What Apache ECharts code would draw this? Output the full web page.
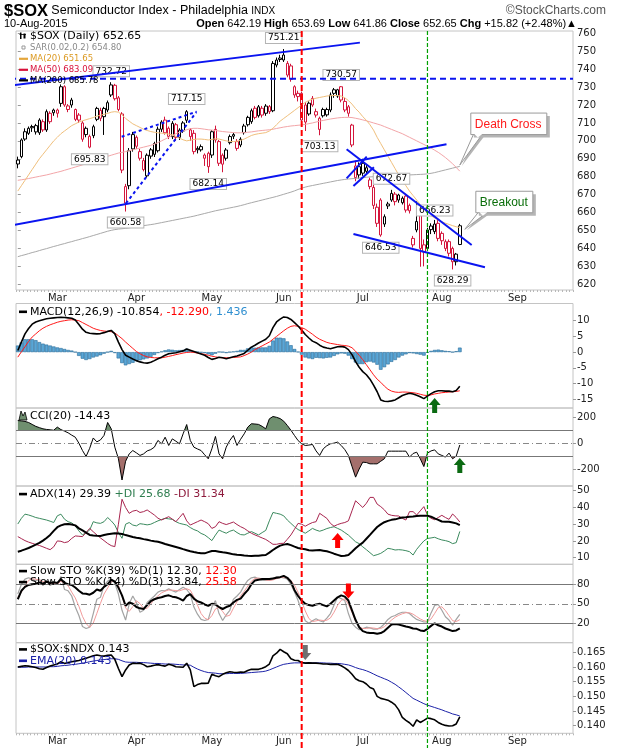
<!DOCTYPE html>
<html>
<head>
<meta charset="utf-8">
<title>$SOX Semiconductor Index</title>
<script src="https://cdn.jsdelivr.net/npm/echarts@6.0.0/dist/echarts.min.js"></script>
<style>
html,body{margin:0;padding:0;background:#fff;}
#chart{width:620px;height:750px;}
</style>
</head>
<body>
<div id="chart"></div>
<script>
// ---------------- DATA ----------------
const tradingDays = [
  ['2015-02', [12,13,17,18,19,20,23,24,25,26,27]],
  ['2015-03', [2,3,4,5,6,9,10,11,12,13,16,17,18,19,20,23,24,25,26,27,30,31]],
  ['2015-04', [1,2,6,7,8,9,10,13,14,15,16,17,20,21,22,23,24,27,28,29,30]],
  ['2015-05', [1,4,5,6,7,8,11,12,13,14,15,18,19,20,21,22,26,27,28,29]],
  ['2015-06', [1,2,3,4,5,8,9,10,11,12,15,16,17,18,19,22,23,24,25,26,29,30]],
  ['2015-07', [1,2,6,7,8,9,10,13,14,15,16,17,20,21,22,23,24,27,28,29,30,31]],
  ['2015-08', [3,4,5,6,7,10,11,12,13,14,17,18,19,20,21,24,25,26,27,28,31]],
  ['2015-09', [1,2,3,4,8,9,10,11,14,15,16,17,18,21,22,23]]
];
const monthNames = {'02':'Feb','03':'Mar','04':'Apr','05':'May','06':'Jun','07':'Jul','08':'Aug','09':'Sep'};

const open = [687.1,691.2,701.0,704.2,708.0,705.0,704.5,710.7,706.1,715.4,
717.2,717.2,720.9,730.2,717.5,722.8,717.5,714.4,710.0,707.0,
696.5,702.9,712.0,717.0,713.5,717.2,725.6,731.0,724.0,715.0,
665.2,675.0,695.5,702.0,694.0,689.0,680.5,691.5,692.5,694.5,
706.5,711.6,707.0,702.3,709.0,702.0,705.5,711.5,702.4,704.2,
695.8,695.0,690.3,693.1,692.1,706.4,699.6,692.0,690.3,699.0,
703.5,699.6,697.7,704.6,709.0,710.7,718.2,714.0,714.4,715.4,
719.1,716.8,742.3,746.2,745.1,743.2,741.8,730.2,726.5,726.5,
720.0,715.0,723.7,716.3,706.4,717.5,714.5,717.2,728.5,725.0,
730.2,722.0,719.0,708.8,686.0,685.6,687.5,683.0,678.2,674.0,
663.0,667.0,653.6,664.8,667.0,670.3,669.8,665.5,669.2,664.0,
642.0,650.3,658.6,642.0,640.0,652.5,649.4,654.0,648.4,640.0,
643.8,640.0,632.6,642.19];
const high = [691.2,701.4,707.0,708.0,709.0,709.5,712.6,712.0,717.5,716.5,
718.0,718.0,731.5,731.0,720.5,724.0,718.0,715.5,711.0,708.0,
703.5,709.0,719.0,718.5,719.0,722.5,732.72,731.8,725.0,716.0,
676.0,696.0,705.0,703.0,695.5,690.5,693.0,696.0,699.5,708.0,
711.5,713.5,708.0,711.0,710.0,707.0,711.0,717.15,707.0,706.0,
697.0,698.0,693.0,694.0,706.0,708.5,700.5,693.0,696.0,703.5,
704.5,701.0,702.0,709.5,714.0,718.0,719.5,720.0,719.5,720.5,
720.0,744.5,746.5,748.0,751.21,744.5,743.0,731.0,728.0,727.5,
721.5,722.0,725.0,718.0,713.5,718.5,718.5,727.0,729.5,729.0,
730.57,724.0,720.0,709.5,689.0,688.0,690.0,687.0,679.5,675.5,
665.0,668.0,659.0,666.0,672.67,671.5,670.5,669.0,670.5,665.0,
647.0,666.23,660.0,645.0,651.5,654.0,655.9,656.0,649.5,645.0,
645.0,641.0,637.5,653.69];
const low = [684.7,690.3,700.0,703.3,705.0,703.5,703.3,705.0,705.0,709.5,
714.0,713.0,719.0,719.0,716.0,718.5,711.0,710.0,699.5,702.0,
695.83,701.5,711.0,711.0,703.3,716.0,724.5,722.5,716.5,682.0,
660.58,673.0,694.0,695.5,689.0,683.0,679.5,690.0,691.0,693.5,
705.0,703.5,701.0,701.0,700.0,700.5,704.5,710.0,700.0,692.5,
693.0,694.0,686.0,682.14,690.5,699.0,686.0,682.5,689.0,698.0,
701.0,694.5,696.5,703.5,708.0,709.5,712.0,713.0,713.0,714.0,
715.0,716.0,741.0,744.0,744.0,735.5,733.0,724.0,722.0,710.0,
705.5,714.0,719.0,713.0,703.13,713.0,713.5,716.0,724.0,724.0,
721.5,716.0,713.5,696.5,677.5,679.0,680.5,681.0,673.0,662.0,
652.0,646.53,652.0,662.0,666.0,664.0,665.5,664.5,660.0,659.5,
640.5,649.0,629.8,630.0,638.5,648.0,648.0,644.0,642.0,638.5,
635.5,628.29,630.5,641.86];
const close = [689.3,700.5,705.1,707.0,707.3,708.5,711.6,706.1,716.3,710.7,
715.7,715.4,730.2,720.0,719.5,720.0,712.0,711.6,700.9,703.5,
702.5,707.9,718.1,712.6,718.1,721.3,731.2,723.5,717.5,683.7,
674.5,694.5,703.5,697.0,690.3,684.0,692.0,695.0,698.5,706.5,
710.5,704.5,702.5,709.8,702.0,706.0,710.0,716.3,706.1,694.0,
695.0,696.8,692.1,685.6,705.1,700.5,687.5,687.0,694.9,702.4,
702.6,695.8,700.9,708.3,713.1,716.8,713.1,719.0,718.2,719.4,
716.3,743.2,745.1,745.4,747.9,736.7,734.3,725.6,724.7,711.6,
710.5,721.0,720.0,714.4,712.6,714.0,717.5,725.6,726.5,728.5,
722.8,717.2,715.4,697.7,679.5,681.0,682.0,685.0,674.5,664.0,
654.0,647.5,657.7,663.7,670.7,666.1,667.0,668.0,661.4,661.0,
645.6,655.0,640.0,638.0,650.3,650.5,653.6,645.6,644.3,643.8,
637.3,632.6,636.83,652.65];

const ma20 = [672,675,678,681,684,687,690,692.5,695,697.5,
700,702,704,705.5,707,708.5,709.5,710.5,711.2,711.8,
712.4,713,713.8,714.3,714.8,715.3,716,716.3,716,714.5,
712.5,711,709.5,708.5,707.5,706.5,705.8,705.2,704.8,704.5,
704.3,704.1,703.8,703.3,702.5,701.5,700.6,700,700.4,700.8,
701,701,700.8,700.5,700.8,701.2,701,700.5,700,699.7,
699.6,699.8,700.3,701,702,703,703.6,704,704.3,704.6,
705.5,707,709,711,712.5,714,715.5,717,718.5,720,
721.5,722.5,723.2,723.8,724.2,724.6,725,725.2,725.3,725.3,
725,724,722.5,720.5,718,716,713.5,711.5,709,706,
702,698.5,695,691.5,688,684.5,681,678,675,672,
669.5,667,664.5,662,660,658.3,657,655.8,654.9,654.1,
653.4,652.7,652.1,651.65];
const ma50 = [678,678.3,678.6,679,679.4,679.8,680.2,680.6,681,681.5,
682,682.5,683,683.6,684.2,684.8,685.4,686,686.6,687.2,
687.8,688.5,689.2,690,690.7,691.4,692,692.6,693.2,693.6,
694,694.5,695,695.5,696,696.5,697,697.5,698.2,699,
700,701,702,703,704,704.8,705.5,706.2,706.8,707,
707,706.8,706.5,706.2,706,705.8,705.5,705.2,705,704.8,
704.6,704.5,704.5,704.6,704.8,705,705.3,705.6,705.8,706,
706.2,706.5,706.9,707.3,707.7,708,708.3,708.5,708.7,708.9,
709.2,709.6,710,710.5,711,711.4,711.8,712.2,712.5,712.8,
713,713.1,713.1,713,712.6,712.2,711.7,711.2,710.6,710,
709.4,708.8,708,707.2,706.4,705.6,704.8,704,703,702,
701,700,699,698,697,696,694.8,693.6,692.2,690.7,
689,687.2,685.2,683.09];
const ma200 = [635.4,636,636.5,637.1,637.7,638.2,638.8,639.4,639.9,640.5,
641.1,641.6,642.2,642.7,643.3,643.8,644.4,644.9,645.5,646,
646.6,647.2,647.8,648.4,649,649.6,650.1,650.5,650.8,651,
651.2,651.5,651.8,652.1,652.4,652.7,653,653.3,653.6,654,
654.4,654.8,655.2,655.6,656,656.4,656.8,657.2,657.6,658,
658.5,659,659.5,660,660.5,661,661.4,661.8,662.2,662.6,
663,663.4,663.9,664.4,665,665.5,666,666.5,667,667.5,
668,668.5,669,669.6,670.2,670.8,671.4,672.1,672.9,673.6,
674.2,674.7,675.1,675.5,675.9,676.3,676.7,677.1,677.5,677.9,
678.2,678.5,678.7,678.9,679.1,679.3,679.5,679.7,679.9,680,
680.1,680.2,680.3,680.4,680.5,680.6,680.7,680.8,680.9,681,
681.1,681.2,681.3,681.4,681.6,681.9,682.3,682.8,683.3,683.8,
684.3,684.8,685.3,685.78];

const macd = [0.5,3.2,5.8,7.5,8.9,9.6,10,10.3,10.6,10.8,
10.9,11,11.1,11,10.9,10.8,10.2,8.8,7.3,6.3,
6,5.9,5.8,5.9,6.2,6.6,6.9,5.8,3.2,0.8,
-1,-1.6,-2.2,-2.7,-3.1,-3.4,-3.5,-3.2,-2.7,-2.1,
-1.6,-1,-0.5,-0.35,-0.2,0.1,0.4,1,0.6,0.2,
-0.2,-0.6,-1,-1.7,-2.3,-2,-1.6,-1.8,-2.1,-1.8,
-1.5,-1.2,-0.8,-0.4,0.6,1.6,2.2,2.9,3.5,4.1,
5.2,7.8,9.6,10.5,11.2,11,10.4,9.4,8.3,7,
5.6,4.5,3.5,3,2.2,1.6,1.3,1.1,1.4,1.7,
1.8,1.6,0.8,-0.8,-3,-4.8,-6.2,-7.2,-8.6,-10.5,
-12.6,-15.2,-15.6,-15.7,-15.5,-15.2,-14.5,-13.8,-13.4,-13.1,
-13.3,-13.7,-14.2,-14.8,-14,-13.2,-12.6,-12.3,-12.3,-12.4,
-12.4,-12.6,-12.2,-10.854];
const macdSignal = [-1.6,0.1,1.7,3.4,4.8,5.8,6.8,7.6,8.2,8.7,
9.1,9.5,9.8,10,10.2,10.3,10.2,10,9.4,8.8,
8.2,7.6,7.2,6.9,6.7,6.6,6.5,6.1,5.2,4.3,
3.2,2.2,1.2,0.2,-0.5,-1.1,-1.5,-1.7,-1.8,-1.8,
-1.8,-1.6,-1.35,-1.1,-0.8,-0.55,-0.3,-0.1,0,-0.1,
-0.3,-0.5,-0.7,-1,-1.3,-1.5,-1.7,-1.8,-1.8,-1.8,
-1.7,-1.6,-1.5,-1.1,-0.6,0,0.8,1.4,2,2.6,
3.2,4.1,5,5.9,6.8,7.6,8.2,8.4,8.2,7.8,
7.3,6.5,5.7,4.8,4.1,3.6,3.1,2.8,2.6,2.4,
2.2,2.1,1.9,1.4,0.3,-1,-2.4,-4,-5.6,-7.2,
-8.6,-9.6,-10.8,-11.8,-12.4,-12.7,-12.8,-12.7,-12.7,-12.8,
-12.9,-13.1,-13.4,-13.7,-13.8,-13.6,-13.3,-13.1,-12.9,-12.8,
-12.7,-12.6,-12.5,-12.29];
const macdHist = [2.1,3.1,4.1,4.1,4.1,3.8,3.2,2.7,2.4,2.1,
1.8,1.5,1.3,1.0,0.7,0.5,0.0,-1.2,-2.1,-2.5,
-2.2,-1.7,-1.4,-1.0,-0.5,0.0,0.4,-0.3,-2.0,-3.5,
-4.2,-3.8,-3.4,-2.9,-2.6,-2.3,-2.0,-1.5,-0.9,-0.3,
0.2,0.6,0.85,0.75,0.6,0.65,0.7,1.1,0.6,0.3,
0.1,-0.1,-0.3,-0.7,-1.0,-0.5,0.1,0.0,-0.3,0.0,
0.2,0.4,0.7,0.7,1.2,1.6,1.4,1.5,1.5,1.5,
2.0,3.7,4.6,4.6,4.4,3.4,2.2,1.0,0.1,-0.8,
-1.7,-2.0,-2.2,-1.8,-1.9,-2.0,-1.8,-1.7,-1.2,-0.7,
-0.4,-0.5,-1.1,-2.2,-3.3,-3.8,-3.8,-3.2,-3.0,-3.3,
-4.0,-5.6,-4.8,-3.9,-3.1,-2.5,-1.7,-1.1,-0.7,-0.3,
-0.4,-0.6,-0.8,-1.1,-0.2,0.4,0.7,0.8,0.6,0.4,
0.3,0.0,0.3,1.436];

const cci = [175,172,168,160,145,130,120,111,106,103,
100,124,105,93,80,62,46,0,-57,-103,
-40,40,10,25,60,160,111,-31,-120,-285,
-140,-83,-57,-75,-95,-83,-60,-50,-31,21,
-5,46,-18,33,15,-5,72,144,21,-31,
-45,-57,-90,-121,-44,52,-83,-121,-31,21,
59,-18,30,72,124,150,148,145,130,111,
188,206,200,190,170,137,100,59,20,-5,
-18,-15,-10,-60,-95,-44,-20,-5,0,8,
-18,-50,-95,-180,-263,-200,-147,-150,-160,-160,
-160,-140,-121,-62,-62,-62,-62,-62,-62,-108,
-80,-70,-121,-181,-77,-60,-52,-83,-95,-108,
-77,-121,-100,-14.43];

const adx = [13.6,14.2,15,15.8,16.8,17.8,18.8,20.2,21.8,23.6,
26,28.2,29.3,30,30.1,29.8,29.3,27.5,26.3,25,
23.6,23.3,23.1,23,23.5,24,24.3,24.6,24.5,24.2,
23.5,23,22.4,21.9,21.6,21.1,20.7,20.2,19.8,19.5,
18.9,18.2,17.6,17,16.4,15.8,15.1,14.5,13.9,13.4,
13,12.7,12.6,13.3,14,14,13.6,13.2,13,12.5,
12,11.7,11.6,11.3,11.1,11,11.1,11.2,11.4,11.6,
13,14.6,16,17.2,17.8,18.2,17.5,16.6,15.8,15.3,
15,14.5,14.3,14.5,14.6,14.2,13.8,13.2,12.4,11.7,
11,11.2,11.6,13.5,15.6,17.4,19,21.3,23.6,26,
28.3,29.9,31.2,32,32.6,32.9,33.5,34,34.2,34.5,
34.6,34.9,35,35.1,35,34.5,33.5,32.6,31.6,31.5,
31.5,31,30.5,29.39];
const plusDI = [30.1,33.5,36,35.5,34.8,34,33.5,33,32.5,31.8,
31,35,36,33,31.5,30.8,29,26,23.6,25,
26.5,31.5,30.8,30.5,31.5,34,32,29.5,25,21.6,
30,31,29.5,29,30.3,30,29.6,30,31,32,
32.8,33.5,33.2,32.9,31.5,30.5,30,29.5,28,26.8,
26,24.5,23.6,22,20.2,23.5,26.5,25.5,24.6,25.8,
26.5,25,23.8,23.6,24.6,25.6,24.6,23.6,25,26.3,
32,37,36.5,36,35,32.5,30.5,28.5,26.8,25.8,
24.6,26,27.5,26.5,25.8,26.5,27.4,28,28.5,27.5,
26.5,25,23.5,21.5,19.5,18.4,16.5,14.8,13,11.2,
11.8,12.6,14,15.6,15.2,14.6,14.8,14.6,14.2,13.6,
11.6,15,17.6,20,21.5,21.8,22.2,21.3,20.6,20.2,
19.6,18.4,19,25.68];
const minusDI = [22.6,21.4,20.2,19.3,18.6,17.9,17.3,16.5,15.6,14.8,
16.5,20,19.8,19,19.5,21.5,23,22.8,22.6,25,
27.5,25.5,23.6,21.8,20.2,18.5,17.2,16.6,30,44.9,
40,36.5,37.8,38.3,37,37.5,38.5,37,35.5,33.6,
32.5,33.5,34.5,33,31.5,34,36.5,32,29.5,30.5,
31.5,32.5,31.5,30.3,27.5,28.5,31.5,30.5,29.8,30.5,
31.3,29.8,28.5,27.5,26,24.6,23.6,22.7,21.8,20.9,
19.5,18,18,18.5,18.6,21,23.6,27,30.5,30,
28.8,30,31,31.5,36.5,35,33.5,30.5,28.8,29.8,
30.5,31,32,38,44,42,40,42.5,46,46,
42,40.5,38.6,36,35.3,35,34.9,33.5,32.5,37.5,
37.5,35.5,38,40.5,35.5,33.5,32.7,34,35.3,34,
32.9,36.1,34,31.34];

const stoK39 = [57,70,76,79,80,81,83,81,84,82,
83,82,88,82,80,79,75,70,66,65.5,
64,67,72,70,76,80,87,84,75,63,
47,52,50,45,43,42,48,54,57,59,
60,62,63,61,60,58,55,62,65,58,
54,52,49,47,50,49,45,42,45,47,
52,56,58,65,71,80,86,87,88,88,
88,89,90,91,93,90,84,71,62,55,
50,48,47,49,50,48,46,50,55,60,
63,61,55,40,25,14,8,6,5,5,
4,5,8,13,18,19,18,16.6,15,14,
12,11.5,9,8,11.5,16,20,17,15,12,
10,8,9,12.3];
const stoK14 = [65,80,88,90,88,85,88,78,86,78,
82,80,92,72,70,62,45,32,15,12,
14,35,57,60,78,85,88,82,65,40,
25,50,62,52,37,40,52,57,62,68,
70.5,70,73,70,68,72,75.6,72,65,45,
34,26,24.3,26,45,55,35,24.3,33,40,
57,62,68,78,86,90,91,88,86,86,
86,88,92,91,90,88,80,68,55,38,
24,20.2,24,27,24,22,28,35,48,60,
58,55,35,20,14,10,12,14,13,11,
11,14,19,26,30,32,35,37,37,35,
30,26,24,22,22,36,47.4,48.9,40,30,
25,17,26,33.84];
const stoD3 = [60,68,77.7,86,88.7,87.7,87,83.7,84,80.7,
82,80,84.7,81.3,78,68,59,46.3,30.7,19.7,
13.7,20.3,35.3,50.7,65,74.3,83.7,85,78.3,62.3,
43.3,38.3,45.7,54.7,50.3,43,43,49.7,57,62.3,
66.8,69.5,71.2,71,70.3,70,71.9,73.2,70.9,60.7,
48,35,28.1,25.4,31.8,42,45,38.1,30.8,32.4,
43.3,53,62.3,69.3,77.3,84.7,89,89.7,88.3,86.7,
86,86.7,88.7,90.3,91,89.7,86,78.7,67.7,53.7,
39,27.4,22.7,23.7,25,24.3,24.7,28.3,37,47.7,
55.3,57.7,49.3,36.7,23,14.7,12,12,13,12.7,
11.7,12,14.7,19.7,25,29.3,32.3,34.7,36.3,36.3,
34,30.3,26.7,24,22.7,26.7,35.1,44.1,45.4,39.6,
31.7,24,22.7,25.58];

const soxNdx = [0.1600,0.1602,0.1604,0.1603,0.1601,0.1598,0.1594,0.1592,0.1598,0.1603,
0.1607,0.1610,0.1618,0.1612,0.1615,0.1618,0.1620,0.1622,0.1626,0.1630,
0.1634,0.1638,0.1641,0.1638,0.1637,0.1640,0.1641,0.1626,0.1595,0.1567,
0.1590,0.1607,0.1613,0.1612,0.1613,0.1608,0.1601,0.1603,0.1606,0.1608,
0.1605,0.1603,0.1609,0.1606,0.1601,0.1600,0.1599,0.1613,0.1590,0.1533,
0.1540,0.1544,0.1544,0.1545,0.1575,0.1570,0.1567,0.1575,0.1580,0.1584,
0.1582,0.1581,0.1583,0.1582,0.1588,0.1592,0.1592,0.1592,0.1596,0.1601,
0.1610,0.1638,0.1647,0.1660,0.1652,0.1645,0.1628,0.1623,0.1622,0.1615,
0.1613,0.1614,0.1613,0.1613,0.1612,0.1610,0.1610,0.1609,0.1609,0.1609,
0.1604,0.1597,0.1588,0.1575,0.1560,0.1553,0.1550,0.1542,0.1530,0.1525,
0.1500,0.1493,0.1490,0.1487,0.1480,0.1471,0.1454,0.1428,0.1418,0.1410,
0.1398,0.1420,0.1411,0.1418,0.1426,0.1424,0.1420,0.1411,0.1405,0.1401,
0.1399,0.1400,0.1406,0.1430];
const soxNdxEma = [0.1599,0.1599,0.1599,0.1600,0.1600,0.1600,0.1600,0.1600,0.1600,0.1601,
0.1601,0.1602,0.1604,0.1605,0.1606,0.1608,0.1609,0.1611,0.1613,0.1615,
0.1618,0.1620,0.1622,0.1624,0.1625,0.1627,0.1628,0.1628,0.1626,0.1621,
0.1617,0.1616,0.1616,0.1616,0.1615,0.1615,0.1614,0.1613,0.1612,0.1612,
0.1611,0.1610,0.1610,0.1610,0.1609,0.1608,0.1607,0.1607,0.1606,0.1599,
0.1593,0.1588,0.1584,0.1581,0.1580,0.1579,0.1577,0.1577,0.1577,0.1578,
0.1578,0.1578,0.1578,0.1579,0.1580,0.1581,0.1582,0.1583,0.1584,0.1586,
0.1590,0.1595,0.1600,0.1605,0.1609,0.1611,0.1613,0.1614,0.1614,0.1614,
0.1614,0.1614,0.1614,0.1614,0.1614,0.1614,0.1613,0.1613,0.1612,0.1612,
0.1611,0.1609,0.1607,0.1603,0.1598,0.1594,0.1591,0.1587,0.1582,0.1576,
0.1570,0.1565,0.1560,0.1555,0.1548,0.1541,0.1532,0.1523,0.1513,0.1503,
0.1493,0.1487,0.1481,0.1475,0.1470,0.1466,0.1462,0.1458,0.1454,0.1449,
0.1445,0.1440,0.1437,0.1433];

// tick labels
const priceTicks = [620,630,640,650,660,670,680,690,700,710,720,730,740,750,760];
const macdTicks = [-15,-10,-5,0,5,10];
const cciTicks = [-200,0,200];
const adxTicks = [10,20,30,40,50];
const stoTicks = [20,50,80];
const ratioTicks = [0.140,0.145,0.150,0.155,0.160,0.165];

// annotated price labels [index, value, placement]
const priceLabels = [[26,732.72,'t'],[74,751.21,'t'],[47,717.15,'t'],[20,695.83,'b'],[30,660.58,'b'],
  [53,682.14,'b'],[90,730.57,'t'],[84,703.13,'b'],[104,672.67,'t'],[101,646.53,'b'],[111,666.23,'r'],[121,628.29,'b']];

// hand-drawn trend lines in (day index, price) coordinates
const trendLines = [
  [[-4.95,730.2],[95.2,754.8],'solid'],
  [[-4.95,734.6],[154.5,734.6],'dashed'],
  [[-4.95,651.6],[119.3,698.1],'solid'],
  [[28.9,702.3],[49.8,716.3],'dotted'],
  [[30.1,665.2],[49.6,715.7],'dotted'],
  [[91.5,695.3],[126.3,641.9],'solid'],
  [[91.5,679.1],[97.1,691.2],'solid'],
  [[93.4,674.8],[99.1,685.3],'solid'],
  [[93.4,648.1],[130,629.5],'solid']
];
const redLineDay = 79;    // Jun 8
const greenLineDay = 114; // Jul 28

// ---------------- BUILD ----------------
const categories = [];
const monthStart = new Set();
tradingDays.forEach(([ym, days]) => {
  days.forEach((d, k) => {
    if (k === 0 && categories.length > 0) monthStart.add(categories.length);
    categories.push(ym + '-' + String(d).padStart(2, '0'));
  });
});
const N = categories.length;
const FONT = 'DejaVu Sans';
const RED = '#d4163c';

const panels = [
  {top:31,    height:259,   min:616.82,  max:761.28,  ticks:priceTicks, fmt:v=>String(v)},
  {top:303.5, height:104.5, min:-17.77,  max:15.47,   ticks:macdTicks,  fmt:v=>String(v)},
  {top:408,   height:78,    min:-331.5,  max:271.95,  ticks:cciTicks,   fmt:v=>String(v)},
  {top:486,   height:78.3,  min:6.06,    max:52.81,   ticks:adxTicks,   fmt:v=>String(v)},
  {top:564.3, height:78.4,  min:-9.85,   max:110.77,  ticks:stoTicks,   fmt:v=>String(v)},
  {top:642.7, height:90.6,  min:0.13741, max:0.16827, ticks:ratioTicks, fmt:v=>v.toFixed(3)}
];

const grid = panels.map(p => ({left:16, right:47, top:p.top, height:p.height, show:true,
  borderColor:'#c4c4c4', borderWidth:1, containLabel:false}));
const xAxis = panels.map((p, i) => ({
  type:'category', gridIndex:i, data:categories, boundaryGap:true,
  axisLine:{show:false},
  axisTick:{show:(i===0||i===5), interval:0, length:2, lineStyle:{color:'#b8b8b8', width:1}},
  axisLabel:{show:(i===0||i===5), interval:(idx)=>monthStart.has(idx),
    formatter:(v)=>monthNames[v.slice(5,7)], fontSize:10, color:'#222', margin:3, fontFamily:FONT},
  splitLine:{show:false}
}));
xAxis.push({type:'value', gridIndex:0, min:-0.5, max:N-0.5, show:false});
const TREND_X = xAxis.length - 1;
const yAxis = panels.map((p, i) => ({
  type:'value', gridIndex:i, position:'right', min:p.min, max:p.max, scale:true,
  splitLine:{show:false}, axisLine:{show:false},
  axisTick:{show:true, length:3, lineStyle:{color:'#999'}, customValues:p.ticks},
  axisLabel:{customValues:p.ticks, formatter:p.fmt, fontSize:10, color:'#222', margin:4, fontFamily:FONT}
}));

const candleData = close.map((c, i) => {
  const prev = i > 0 ? close[i-1] : open[0];
  const col = c >= prev ? '#000000' : RED;
  return {value:[open[i], c, low[i], high[i]],
    itemStyle:{color:'#ffffff', color0:col, borderColor:col, borderColor0:col, borderWidth:1}};
});

const labelMarks = priceLabels.map(([i, v, pl]) => ({
  coord:[categories[i], v], value:v,
  label:{offset: pl==='t' ? [0,-11] : pl==='b' ? [0,11] : [18,9]}
}));

const ARROW_UP = 'path://M6,0 L12,7 L8.5,7 L8.5,15 L3.5,15 L3.5,7 L0,7 Z';
const ARROW_DN = 'path://M3.5,0 L8.5,0 L8.5,8 L12,8 L6,15 L0,8 L3.5,8 Z';
function arrowMark(i, v, sym, color) {
  return {silent:true, label:{show:false}, animation:false,
    data:[{coord:[categories[i], v], symbol:sym, symbolSize:[12,15], symbolKeepAspect:false, itemStyle:{color:color}}]};
}

const series = [];
function add(s) { series.push(s); return series.length - 1; }
const lineBase = {type:'line', symbol:'none', showSymbol:false, animation:false, silent:true};

// main panel
add(Object.assign({}, lineBase, {name:'MA200', xAxisIndex:0, yAxisIndex:0, data:ma200, lineStyle:{color:'#a9a9a9', width:1}}));
add(Object.assign({}, lineBase, {name:'MA50', xAxisIndex:0, yAxisIndex:0, data:ma50, lineStyle:{color:'#f3a5a8', width:1}}));
add(Object.assign({}, lineBase, {name:'MA20', xAxisIndex:0, yAxisIndex:0, data:ma20, lineStyle:{color:'#f0bf7c', width:1}}));
add({type:'candlestick', name:'$SOX', xAxisIndex:0, yAxisIndex:0, data:candleData, barWidth:3, animation:false, silent:true,
  markPoint:{silent:true, animation:false, symbol:'rect', symbolSize:1, itemStyle:{color:'rgba(0,0,0,0)'},
    label:{show:true, position:'inside', formatter:(p)=>p.value.toFixed(2), fontSize:9, fontFamily:FONT, color:'#000',
      backgroundColor:'#fff', borderColor:'#b4b4b4', borderWidth:1, padding:[1,2,0,2]},
    data:labelMarks}});
let firstTrend = -1;
trendLines.forEach(([a, b, t]) => {
  const idx = add(Object.assign({}, lineBase, {xAxisIndex:TREND_X, yAxisIndex:0, data:[a, b], clip:false, z:5,
    lineStyle:{color:'#0a14f0', width:2, type: t==='solid' ? 'solid' : t==='dashed' ? [6,4] : [3,3]}}));
  if (firstTrend < 0) firstTrend = idx;
});

// MACD
add({type:'bar', xAxisIndex:1, yAxisIndex:1, data:macdHist, barWidth:'100%', animation:false, silent:true,
  itemStyle:{color:'#5aa6d6', borderColor:'#2a6c98', borderWidth:0.6}});
add(Object.assign({}, lineBase, {xAxisIndex:1, yAxisIndex:1, data:macdSignal, lineStyle:{color:'#ff1a1a', width:1}}));
add(Object.assign({}, lineBase, {xAxisIndex:1, yAxisIndex:1, data:macd, lineStyle:{color:'#000', width:1.6},
  markPoint:arrowMark(116, -17.0, ARROW_UP, '#0b6a12')}));

// CCI
const cciUp = add(Object.assign({}, lineBase, {xAxisIndex:2, yAxisIndex:2, data:cci, lineStyle:{width:0, opacity:0},
  areaStyle:{opacity:1, origin:100}}));
const cciDn = add(Object.assign({}, lineBase, {xAxisIndex:2, yAxisIndex:2, data:cci, lineStyle:{width:0, opacity:0},
  areaStyle:{opacity:1, origin:-100}}));
add(Object.assign({}, lineBase, {xAxisIndex:2, yAxisIndex:2, data:cci, lineStyle:{color:'#000', width:1},
  markLine:{silent:true, symbol:['none','none'], label:{show:false}, animation:false,
    data:[{yAxis:100, lineStyle:{color:'#777', width:1, type:'solid'}},
          {yAxis:-100, lineStyle:{color:'#777', width:1, type:'solid'}},
          {yAxis:0, lineStyle:{color:'#888', width:1, type:[6,3,1,3]}}]},
  markPoint:arrowMark(123, -172, ARROW_UP, '#0b6a12')}));

// ADX
add(Object.assign({}, lineBase, {xAxisIndex:3, yAxisIndex:3, data:plusDI, lineStyle:{color:'#3b8a5e', width:1}}));
add(Object.assign({}, lineBase, {xAxisIndex:3, yAxisIndex:3, data:minusDI, lineStyle:{color:'#a8244e', width:1}}));
add(Object.assign({}, lineBase, {xAxisIndex:3, yAxisIndex:3, data:adx, lineStyle:{color:'#000', width:2},
  markPoint:arrowMark(89, 20.3, ARROW_UP, '#ff0000')}));

// STO
add(Object.assign({}, lineBase, {xAxisIndex:4, yAxisIndex:4, data:stoK14, lineStyle:{color:'#a3a3a3', width:1.2},
  markLine:{silent:true, symbol:['none','none'], label:{show:false}, animation:false,
    data:[{yAxis:80, lineStyle:{color:'#777', width:1, type:'solid'}},
          {yAxis:20, lineStyle:{color:'#777', width:1, type:'solid'}},
          {yAxis:50, lineStyle:{color:'#888', width:1, type:[6,3,1,3]}}]}}));
add(Object.assign({}, lineBase, {xAxisIndex:4, yAxisIndex:4, data:stoD3, lineStyle:{color:'#f29b9b', width:1}}));
add(Object.assign({}, lineBase, {xAxisIndex:4, yAxisIndex:4, data:stoK39, lineStyle:{color:'#000', width:2},
  markPoint:arrowMark(92, 69.7, ARROW_DN, '#ff0000')}));

// SOX:NDX
add(Object.assign({}, lineBase, {xAxisIndex:5, yAxisIndex:5, data:soxNdxEma, lineStyle:{color:'#1c22a8', width:1}}));
add(Object.assign({}, lineBase, {xAxisIndex:5, yAxisIndex:5, data:soxNdx, lineStyle:{color:'#000', width:1.6},
  markPoint:arrowMark(80, 0.1649, ARROW_DN, '#6f6f6f')}));

const option = {
  animation:false,
  backgroundColor:'#ffffff',
  grid, xAxis, yAxis, series,
  visualMap:[
    {type:'piecewise', show:false, seriesIndex:cciUp, dimension:1,
      pieces:[{gte:-2000, lte:100, color:'rgba(255,255,255,0)'}, {gt:100, lte:2000, color:'#6f8f6f'}]},
    {type:'piecewise', show:false, seriesIndex:cciDn, dimension:1,
      pieces:[{gte:-2000, lt:-100, color:'#a46f6c'}, {gte:-100, lte:2000, color:'rgba(255,255,255,0)'}]}
  ]
};

const chart = echarts.init(document.getElementById('chart'), null, {renderer:'canvas'});
chart.setOption(option);

// ---------------- ANNOTATIONS ----------------
const last = close.length - 1;
const chg = close[last] - close[last-1];
const chgPct = chg / close[last-1] * 100;
function px(x, y) { return chart.convertToPixel({seriesIndex:firstTrend}, [x, y]); }
function T(x, y, text, font, fill, align, extra, z) {
  return {type:'text', x:x, y:y, z:(z||200), silent:true,
    style:Object.assign({text:text, font:font, fill:fill, align:align||'left', verticalAlign:'middle'}, extra||{})};
}
function R(x, y, w, h, fill, stroke, z) {
  return {type:'rect', z:(z||200), silent:true, shape:{x:x, y:y, width:w, height:h},
    style:{fill:fill, stroke:stroke||null, lineWidth:1}};
}
const g = [];
// header
g.push(T(4, 11, '{a|$SOX} {b|Semiconductor Index - Philadelphia} {c|INDX}', '12px Liberation Sans', '#000', 'left',
  {rich:{a:{font:'bold 16.5px Liberation Sans', fill:'#000'}, b:{font:'12.5px Liberation Sans', fill:'#000'}, c:{font:'10px Liberation Sans', fill:'#000'}}}));
g.push(T(606, 11, '\u00A9StockCharts.com', '12px Liberation Sans', '#555', 'right'));
g.push(T(4, 24, '10-Aug-2015', '11px Liberation Sans', '#000', 'left'));
g.push(T(577, 24,
  '{b|Open} ' + open[last].toFixed(2) + ' {b|High} ' + high[last].toFixed(2) + ' {b|Low} ' + low[last].toFixed(2) +
  ' {b|Close} ' + close[last].toFixed(2) + ' {b|Chg} +' + chg.toFixed(2) + ' (+' + chgPct.toFixed(2) + '%)\u25B2',
  '11px Liberation Sans', '#000', 'right', {rich:{b:{font:'bold 11px Liberation Sans', fill:'#000'}}}));

// main legend
const LF1 = '11px ' + FONT;
const LF = '8.5px ' + FONT;
g.push(R(20, 32.5, 1.5, 6.5, '#000')); g.push(R(23.5, 33.5, 2, 5, '#000')); g.push(R(19.5, 34.2, 6.5, 0.8, '#000'));
g.push(T(30, 36.2, '$SOX (Daily) ' + close[last].toFixed(2), LF1, '#000'));
g.push(R(22, 46, 3, 3, '#fff', '#999'));
g.push(T(30, 47.3, 'SAR(0.02,0.2) 654.80', LF, '#8a8a8a'));
g.push(R(19, 57.7, 9, 2.2, '#e4a63c'));
g.push(T(30, 58.7, 'MA(20) ' + ma20[last].toFixed(2), LF, '#dc9a22'));
g.push(R(19, 68.7, 9, 2.2, '#d8103a'));
g.push(T(30, 69.7, 'MA(50) ' + ma50[last].toFixed(2), LF, '#d8103a'));
g.push(R(19, 79.3, 9, 2.2, '#000'));
g.push(T(30, 80.3, 'MA(200) ' + ma200[last].toFixed(2), LF, '#000'));

// panel legends
const PF = '11px ' + FONT;
function legendBar(y, color) { g.push(R(19, y - 1.2, 8, 2.6, color)); }
legendBar(311.7, '#000');
g.push(T(30, 311.7, '{a|MACD(12,26,9) ' + macd[last].toFixed(3) + '}{r|, ' + macdSignal[last].toFixed(3) + '}{c|, ' + macdHist[last].toFixed(3) + '}',
  PF, '#000', 'left', {rich:{a:{fill:'#000', font:PF}, r:{fill:'#ff0000', font:PF}, c:{fill:'#2f8fd0', font:PF}}}));
g.push({type:'polygon', z:200, silent:true, shape:{points:[[19,420],[21,411],[23,416],[25,412],[27,420]]}, style:{fill:'#6f8f6f', stroke:'#000', lineWidth:0.8}});
g.push(T(30, 416, 'CCI(20) ' + cci[last].toFixed(2), PF, '#000'));
legendBar(494, '#000');
g.push(T(30, 494, '{a|ADX(14) ' + adx[last].toFixed(2) + '}{p| +DI ' + plusDI[last].toFixed(2) + '}{m| -DI ' + minusDI[last].toFixed(2) + '}',
  PF, '#000', 'left', {rich:{a:{fill:'#000', font:PF}, p:{fill:'#2e7d4f', font:PF}, m:{fill:'#8e1a3c', font:PF}}}));
legendBar(571, '#000');
g.push(T(30, 571, '{a|Slow STO %K(39) %D(1) ' + stoK39[last].toFixed(2) + ',}{r| ' + stoK39[last].toFixed(2) + '}',
  PF, '#000', 'left', {rich:{a:{fill:'#000', font:PF}, r:{fill:'#ff0000', font:PF}}}));
legendBar(582, '#000');
g.push(T(30, 582, '{a|Slow STO %K(14) %D(3) ' + stoK14[last].toFixed(2) + ',}{r| ' + stoD3[last].toFixed(2) + '}',
  PF, '#000', 'left', {rich:{a:{fill:'#000', font:PF}, r:{fill:'#ff0000', font:PF}}}));
legendBar(649.3, '#000');
g.push(T(30, 649.3, '$SOX:$NDX ' + soxNdx[last].toFixed(3), PF, '#000'));
legendBar(660.7, '#1c22a8');
g.push(T(30, 660.7, 'EMA(20) ' + soxNdxEma[last].toFixed(3), PF, '#1c22a8'));

// vertical event lines
const xr = px(redLineDay, 700)[0];
const xgr = px(greenLineDay, 700)[0];
g.push({type:'line', z:150, silent:true, shape:{x1:xr, y1:31, x2:xr, y2:748}, style:{stroke:'#ff0000', lineWidth:2, lineDash:[6,3]}});
g.push({type:'line', z:150, silent:true, shape:{x1:xgr, y1:31, x2:xgr, y2:748}, style:{stroke:'#00a000', lineWidth:1.2, lineDash:[4,2]}});

// callouts
function callout(tipX, tipY, dx, dy, w, h, text, color) {
  const bx = tipX + dx, by = tipY + dy;
  const b1 = [bx + 3, by + h - 1], b2 = [bx + 12, by + h - 1];
  g.push({type:'polygon', z:156, silent:true, shape:{points:[[b1[0]+2, b1[1]+2],[b2[0]+2, b2[1]+2],[tipX+2, tipY+1]]}, style:{fill:'#b4b4b4'}});
  g.push({type:'polygon', z:157, silent:true, shape:{points:[b1, b2, [tipX, tipY]]}, style:{fill:'#fff', stroke:'#9a9a9a', lineWidth:1}});
  g.push(R(bx + 3, by + 3, w, h, '#b5b5b5', null, 158));
  g.push(R(bx, by, w, h, '#fff', '#9a9a9a', 159));
  g.push({type:'polygon', z:160, silent:true, shape:{points:[[b1[0]+0.5, by + h - 0.5],[b2[0]-0.5, by + h - 0.5],[b1[0]+4, by + h + 3]]}, style:{fill:'#fff'}});
  g.push(T(bx + 4, by + h / 2 + 0.5, text, '12px Liberation Sans', color, 'left', null, 161));
}
const dc = px(123, 686.5);
callout(dc[0], dc[1], 11, -52, 76, 21.5, 'Death Cross', '#ff1a1a');
const bo = px(124.4, 650.7);
callout(bo[0], bo[1], 11, -38, 57, 21.5, 'Breakout', '#0a6e0a');

chart.setOption({graphic:g});
</script>
</body>
</html>
